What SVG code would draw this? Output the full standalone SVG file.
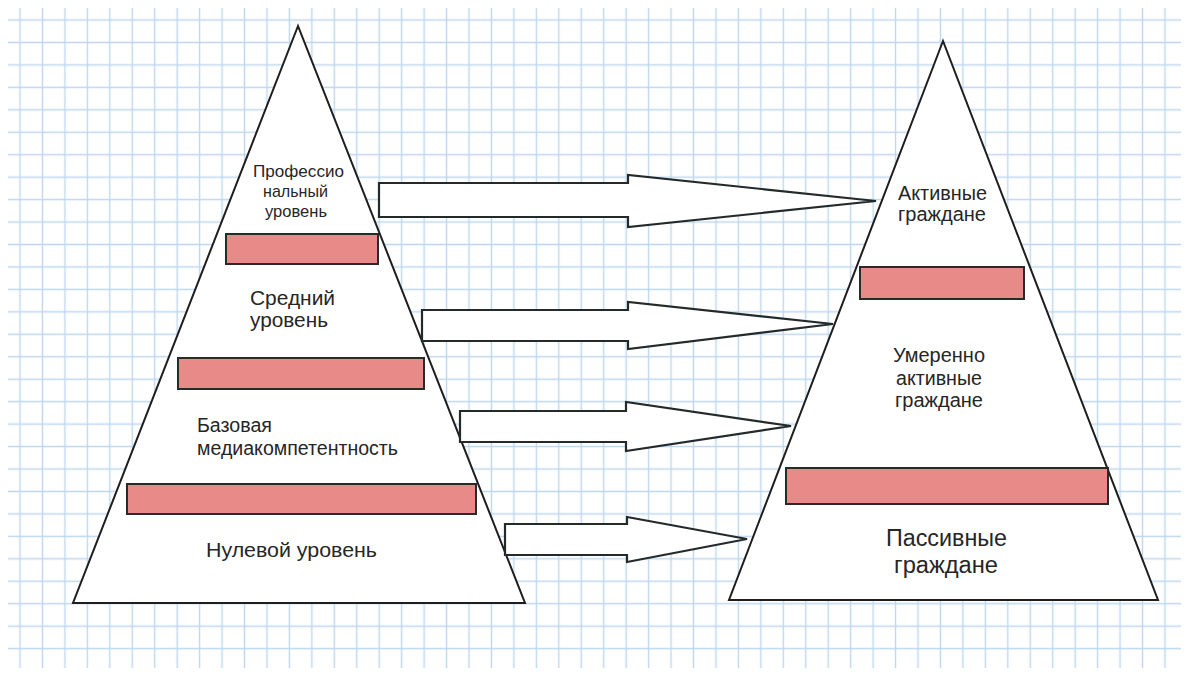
<svg xmlns="http://www.w3.org/2000/svg" width="1189" height="675" viewBox="0 0 1189 675">
  <style>
    .tri { fill: #ffffff; stroke: #1e1e1e; stroke-width: 2; stroke-linejoin: miter; }
    .bar { fill: #e88a88; stroke: #2a2a2a; stroke-width: 2; }
    .arrow { fill: #ffffff; stroke: #232a2a; stroke-width: 2.2; stroke-linejoin: miter; }
    .lbl { font-family: "Liberation Sans", Arial, sans-serif; fill: #262626; }
    .c { text-anchor: middle; }
  </style>
  <defs>
    <pattern id="gridpat" patternUnits="userSpaceOnUse" x="8.78" y="8.78" width="22.45" height="22.45">
      <path d="M11.225 0 V22.45 M0 11.225 H22.45" stroke="#bdd7f1" stroke-width="1.4" fill="none"/>
    </pattern>
  </defs>
  <rect x="0" y="0" width="1189" height="675" fill="#ffffff"/>
  <g id="grid">
    <rect x="8" y="8" width="1173" height="660" fill="url(#gridpat)"/>
  </g>

  <g id="pyramid-left">
    <polygon class="tri" points="298,26 73,603 525,603"/>
  </g>
  <g id="pyramid-right">
    <polygon class="tri" points="943,41 729,600 1158,600"/>
  </g>

  <g id="bar-left-1"><rect class="bar" x="226" y="234" width="152" height="30"/></g>
  <g id="bar-left-2"><rect class="bar" x="178" y="358" width="246" height="31"/></g>
  <g id="bar-left-3"><rect class="bar" x="127" y="484" width="349" height="30"/></g>
  <g id="bar-right-1"><rect class="bar" x="860" y="267" width="164" height="32"/></g>
  <g id="bar-right-2"><rect class="bar" x="786" y="468" width="322" height="36"/></g>

  <g id="label-professional" class="lbl c" font-size="17">
    <text x="298.5" y="177" textLength="91" lengthAdjust="spacingAndGlyphs">Профессио</text>
    <text x="295.5" y="197" textLength="65" lengthAdjust="spacingAndGlyphs">нальный</text>
    <text x="296" y="217" textLength="62" lengthAdjust="spacingAndGlyphs">уровень</text>
  </g>
  <g id="label-middle" class="lbl" font-size="21">
    <text x="250" y="305" textLength="85" lengthAdjust="spacingAndGlyphs">Средний</text>
    <text x="250" y="327" textLength="78" lengthAdjust="spacingAndGlyphs">уровень</text>
  </g>
  <g id="label-basic" class="lbl" font-size="19.5">
    <text x="197" y="432" textLength="75" lengthAdjust="spacingAndGlyphs">Базовая</text>
    <text x="197" y="455" textLength="201" lengthAdjust="spacingAndGlyphs">медиакомпетентность</text>
  </g>
  <g id="label-zero" class="lbl" font-size="21">
    <text x="206" y="557" textLength="171" lengthAdjust="spacingAndGlyphs">Нулевой уровень</text>
  </g>

  <g id="label-active" class="lbl c" font-size="20">
    <text x="942.5" y="200" textLength="89" lengthAdjust="spacingAndGlyphs">Активные</text>
    <text x="942" y="221" textLength="88" lengthAdjust="spacingAndGlyphs">граждане</text>
  </g>
  <g id="label-moderate" class="lbl c" font-size="20">
    <text x="939" y="362" textLength="92" lengthAdjust="spacingAndGlyphs">Умеренно</text>
    <text x="939" y="385" textLength="86" lengthAdjust="spacingAndGlyphs">активные</text>
    <text x="939" y="407" textLength="88" lengthAdjust="spacingAndGlyphs">граждане</text>
  </g>
  <g id="label-passive" class="lbl c" font-size="23">
    <text x="946.5" y="546" textLength="121" lengthAdjust="spacingAndGlyphs">Пассивные</text>
    <text x="946" y="573" textLength="104" lengthAdjust="spacingAndGlyphs">граждане</text>
  </g>

  <g id="connectors">
    <polygon class="arrow" points="379,183 628,183 628,175 876,201 628,227 628,217 379,217"/>
    <polygon class="arrow" points="422,310 628,310 628,302 833,324 628,349 628,341 422,341"/>
    <polygon class="arrow" points="460,411 626,411 626,402 791,426 626,451 626,442 460,442"/>
    <polygon class="arrow" points="505,524 627,524 627,517 747,539 627,562 627,555 505,555"/>
  </g>
</svg>
